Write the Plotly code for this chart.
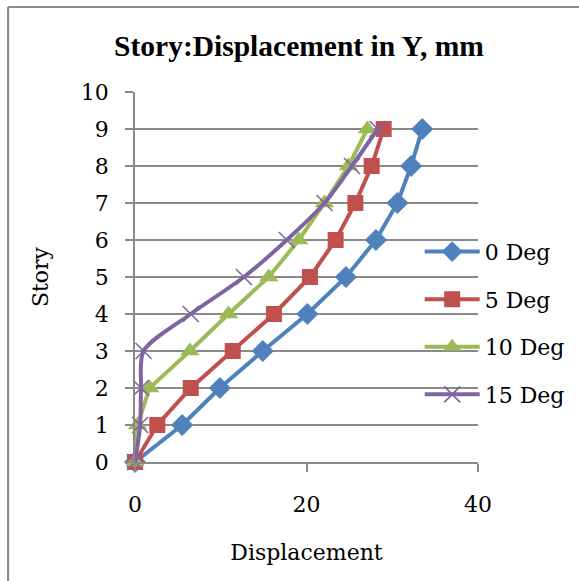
import plotly.graph_objects as go

# Story levels and lateral displacement (mm) for each orientation angle
stories = [0, 1, 2, 3, 4, 5, 6, 7, 8, 9]
disp_0deg = [0, 5.5, 9.9, 14.9, 20.1, 24.6, 28.1, 30.6, 32.2, 33.5]
disp_5deg = [0, 2.6, 6.5, 11.4, 16.2, 20.4, 23.4, 25.7, 27.6, 29.0]
disp_10deg = [0, 0.3, 1.7, 6.4, 10.9, 15.6, 19.1, 22.1, 24.9, 27.1]
disp_15deg = [0, 0.6, 0.7, 1.0, 6.5, 12.7, 17.7, 22.1, 25.3, 28.3]

series_names = ["0 Deg", "5 Deg", "10 Deg", "15 Deg"]
x_ticks = [0, 20, 40]
y_ticks = list(range(0, 11))

SERIF = "DejaVu Serif"
GRID = "#8a8a8a"

styles = [
    dict(color="#4F81BD", symbol="diamond", size=17, shape="linear"),
    dict(color="#C0504D", symbol="square", size=16, shape="linear"),
    dict(color="#9BBB59", symbol="triangle-up", size=17, shape="linear"),
    dict(color="#8064A2", symbol="x-thin", size=16, shape="spline"),
]
data = [disp_0deg, disp_5deg, disp_10deg, disp_15deg]

fig = go.Figure()
for i, (name, xs, st) in enumerate(zip(series_names, data, styles)):
    marker = dict(symbol=st["symbol"], size=st["size"], color=st["color"])
    if st["symbol"] == "x-thin":
        marker["line"] = dict(color=st["color"], width=1.6)
    else:
        marker["line"] = dict(width=0)
    fig.add_trace(go.Scatter(
        x=xs, y=stories, name=name, mode="lines+markers",
        line=dict(color=st["color"], width=4, shape=st["shape"],
                  smoothing=0.8 if st["shape"] == "spline" else None),
        marker=marker, cliponaxis=False,
        legendgroup=f"g{i}",
    ))

# outer chart frame (top and left edges)
fig.add_shape(type="line", xref="paper", yref="paper",
              x0=-0.370, x1=1.30, y0=1.2297, y1=1.2297,
              line=dict(color="#8c8c8c", width=2.2))
fig.add_shape(type="line", xref="paper", yref="paper",
              x0=-0.370, x1=-0.370, y0=1.2297, y1=-0.33,
              line=dict(color="#8c8c8c", width=2.2))

fig.update_layout(
    width=579, height=581,
    margin=dict(l=135, r=101, t=92, b=119, autoexpand=False),
    paper_bgcolor="white", plot_bgcolor="white",
    title=dict(text="<b>Story:Displacement in Y, mm</b>",
               font=dict(family="Liberation Serif", size=29.5, color="black"),
               x=299 / 579, xref="container", xanchor="center",
               y=1 - 46 / 581, yref="container", yanchor="middle"),
    xaxis=dict(range=[0, 40], tickvals=x_ticks, showgrid=False,
               showline=True, linecolor=GRID, linewidth=1.5,
               ticks="outside", ticklen=8, tickcolor=GRID, tickwidth=1.5,
               zeroline=False,
               tickfont=dict(family=SERIF, size=22, color="black"),
               ticklabelstandoff=14,
               title=dict(text="Displacement", standoff=28,
                          font=dict(family=SERIF, size=22, color="black"))),
    yaxis=dict(range=[0, 10], tickvals=y_ticks, showgrid=True,
               gridcolor=GRID, gridwidth=1.5,
               showline=True, linecolor=GRID, linewidth=1.5,
               ticks="outside", ticklen=8, tickcolor=GRID, tickwidth=1.5,
               zeroline=False,
               tickfont=dict(family=SERIF, size=22, color="black"),
               ticklabelstandoff=12,
               title=dict(text="Story", standoff=26,
                          font=dict(family=SERIF, size=22, color="black"))),
    legend=dict(x=0.83, xanchor="left", y=0.625, yanchor="top",
                bgcolor="rgba(0,0,0,0)", tracegroupgap=16,
                traceorder="grouped", itemwidth=55,
                font=dict(family=SERIF, size=22, color="black")),
    showlegend=True,
)

fig.write_html("out.html")
